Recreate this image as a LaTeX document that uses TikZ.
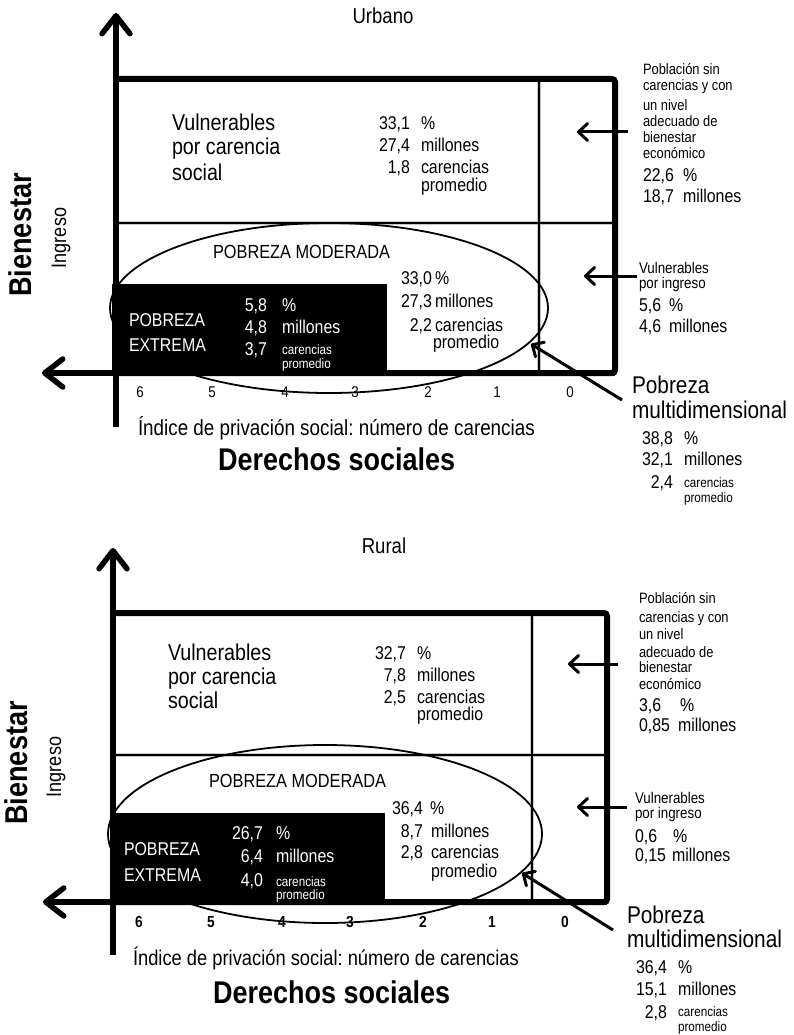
\documentclass[tikz,border=0pt]{standalone}
\usepackage{fontspec}
\setmainfont{Liberation Sans}[FakeStretch=0.86]
\usetikzlibrary{arrows.meta}
\newcommand\fsz[1]{\fontsize{#1}{#1}\selectfont}
\frenchspacing
\begin{document}
\begin{tikzpicture}[x=1pt,y=-1pt,
  tx/.style={inner sep=0pt, outer sep=0pt},
  L/.style={tx,anchor=base west},
  R/.style={tx,anchor=base east},
  C/.style={tx,anchor=base},
  big/.style={font=\fsz{18.5}},
  small/.style={font=\fsz{13.6}},
  vul/.style={font=\fsz{22.9}},
  side/.style={font=\fsz{15}},
  sidev/.style={font=\fsz{15.5}},
  multi/.style={font=\fsz{24.2}},
  mod/.style={font=\fsz{19}},
  wt/.style={text=white},
  tick/.style={C,font=\fsz{15.5}},
  tickb/.style={C,font=\bfseries\fsz{16}},
  heavy/.style={line width=6pt},
  inner/.style={line width=1.8pt},
  halo/.style={line width=3.6pt, gray!45},
  axisarrow/.style={line width=5.5pt, -{Straight Barb[length=18pt,width=28pt,line cap=round,line join=round]}},
  ptr/.style={line width=3pt, -{Straight Barb[length=9pt,width=17pt,line cap=round,line join=round]}},
]
\useasboundingbox (0,0) rectangle (793,1035);

%%%%%%%%%%%%%%%%%%%%%%%% URBANO %%%%%%%%%%%%%%%%%%%%%%%%
\coordinate (u-tl) at (116,79);
\coordinate (u-tr) at (615,79);
\coordinate (u-br) at (615,373);
\coordinate (u-bl) at (116,373);
\coordinate (u-xt) at (42,373);
\coordinate (u-yt) at (116,13);
\coordinate (u-yb) at (116,427);

\draw[halo] (116,223) -- (615,223);
\draw[halo] (539,79) -- (539,373);
\draw[inner] (116,223) -- (615,223);
\draw[inner] (539,79) -- (539,373);
\draw[line width=1.8pt] (329,308) ellipse [x radius=219pt, y radius=85pt];
\fill[black] (112,284) rectangle (387,373);
\draw[heavy, rounded corners=3pt] (u-tl) -- (u-tr) -- (u-br) -- (u-bl);
\draw[axisarrow] (u-br) -- (u-xt);
\draw[axisarrow] (u-yb) -- (u-yt);

\node[C,font=\fsz{21.6}] (u-title) at (383,24) {Urbano};
\node[tx,rotate=90,font=\bfseries\fsz{31.5}] (u-bien) at (20,235) {Bienestar};
\node[tx,rotate=90,font=\fsz{21}] (u-ing) at (61,238) {Ingreso};

\node[L,vul] (u-v1) at (172,131) {Vulnerables};
\node[L,vul] (u-v2) at (172,155) {por carencia};
\node[L,vul] (u-v3) at (172,180) {social};
\node[R,big] (u-vn1) at (410,130) {33,1};
\node[L,big] (u-vu1) at (421,130) {\%};
\node[R,big] (u-vn2) at (410,152) {27,4};
\node[L,big] (u-vu2) at (421,152) {millones};
\node[R,big] (u-vn3) at (410,174) {1,8};
\node[L,big] (u-vu3) at (421,174) {carencias};
\node[L,big] (u-vu4) at (421,191) {promedio};

\node[L,mod] (u-pm) at (213,258) {POBREZA MODERADA};
\node[R,big] (u-mn1) at (432,284) {33,0};
\node[L,big] (u-mu1) at (435,284) {\%};
\node[R,big] (u-mn2) at (432,307) {27,3};
\node[L,big] (u-mu2) at (435,307) {millones};
\node[R,big] (u-mn3) at (432,331) {2,2};
\node[L,big] (u-mu3) at (435,331) {carencias};
\node[L,big] (u-mu4) at (433,348) {promedio};

\node[L,big,wt] (u-pe1) at (129,326) {POBREZA};
\node[L,big,wt] (u-pe2) at (129,351) {EXTREMA};
\node[R,big,wt] (u-en1) at (267,311) {5,8};
\node[L,big,wt] (u-eu1) at (282,311) {\%};
\node[R,big,wt] (u-en2) at (267,333) {4,8};
\node[L,big,wt] (u-eu2) at (282,333) {millones};
\node[R,big,wt] (u-en3) at (267,355) {3,7};
\node[L,small,wt] (u-eu3) at (282,354) {carencias};
\node[L,small,wt] (u-eu4) at (282,368) {promedio};

\node[L,side] (u-s1) at (643,75) {Población sin};
\node[L,side] (u-s2) at (643,91) {carencias y con};
\node[L,side] (u-s3) at (643,111) {un nivel};
\node[L,side] (u-s4) at (643,127) {adecuado de};
\node[L,side] (u-s5) at (643,143) {bienestar};
\node[L,side] (u-s6) at (643,159) {económico};
\node[L,big] (u-sn1) at (643,182) {22,6};
\node[L,big] (u-su1) at (683,182) {\%};
\node[L,big] (u-sn2) at (643,202) {18,7};
\node[L,big] (u-su2) at (683,202) {millones};
\coordinate (u-a1s) at (628,132);
\coordinate (u-a1e) at (577,132);
\draw[ptr] (u-a1s) -- (u-a1e);

\node[L,sidev] (u-i1) at (639,273) {Vulnerables};
\node[L,sidev] (u-i2) at (639,288) {por ingreso};
\node[L,big] (u-in1) at (639,311) {5,6};
\node[L,big] (u-iu1) at (669,311) {\%};
\node[L,big] (u-in2) at (639,332) {4,6};
\node[L,big] (u-iu2) at (669,332) {millones};
\coordinate (u-a2s) at (637,276);
\coordinate (u-a2e) at (584,276);
\draw[ptr] (u-a2s) -- (u-a2e);

\node[L,multi] (u-m1) at (632,393) {Pobreza};
\node[L,multi] (u-m2) at (632,418) {multidimensional};
\node[R,big] (u-mdn1) at (673,444) {38,8};
\node[L,big] (u-mdu1) at (684,444) {\%};
\node[R,big] (u-mdn2) at (673,465) {32,1};
\node[L,big] (u-mdu2) at (684,465) {millones};
\node[R,big] (u-mdn3) at (673,488) {2,4};
\node[L,small] (u-mdu3) at (684,487) {carencias};
\node[L,small] (u-mdu4) at (684,502) {promedio};
\coordinate (u-a3s) at (622,400);
\coordinate (u-a3e) at (531,344);
\draw[ptr] (u-a3s) -- (u-a3e);

\node[tick] (u-t6) at (140,397) {6};
\node[tick] (u-t5) at (212,397) {5};
\node[tick] (u-t4) at (285,397) {4};
\node[tick] (u-t3) at (355,397) {3};
\node[tick] (u-t2) at (428,397) {2};
\node[tick] (u-t1) at (497,397) {1};
\node[tick] (u-t0) at (570,397) {0};
\node[L,font=\fsz{21.9}] (u-idx) at (138,435) {Índice de privación social: número de carencias};
\node[L,font=\bfseries\fsz{31.4}] (u-der) at (218,470) {Derechos sociales};

%%%%%%%%%%%%%%%%%%%%%%%% RURAL %%%%%%%%%%%%%%%%%%%%%%%%
\coordinate (r-tl) at (113,613);
\coordinate (r-tr) at (607,613);
\coordinate (r-br) at (607,902);
\coordinate (r-bl) at (113,902);
\coordinate (r-xt) at (43,902);
\coordinate (r-yt) at (113,548);
\coordinate (r-yb) at (113,955);

\draw[halo] (113,755) -- (607,755);
\draw[halo] (532,613) -- (532,902);
\draw[inner] (113,755) -- (607,755);
\draw[inner] (532,613) -- (532,902);
\draw[line width=1.8pt] (325,834) ellipse [x radius=217pt, y radius=89pt];
\fill[black] (111,813) rectangle (385,902);
\draw[heavy, rounded corners=3pt] (r-tl) -- (r-tr) -- (r-br) -- (r-bl);
\draw[axisarrow] (r-br) -- (r-xt);
\draw[axisarrow] (r-yb) -- (r-yt);

\node[C,font=\fsz{21.6}] (r-title) at (384,553) {Rural};
\node[tx,rotate=90,font=\bfseries\fsz{31.5}] (r-bien) at (16,763) {Bienestar};
\node[tx,rotate=90,font=\fsz{21}] (r-ing) at (56,767) {Ingreso};

\node[L,vul] (r-v1) at (168,660) {Vulnerables};
\node[L,vul] (r-v2) at (168,684) {por carencia};
\node[L,vul] (r-v3) at (168,708) {social};
\node[R,big] (r-vn1) at (406,659) {32,7};
\node[L,big] (r-vu1) at (417,659) {\%};
\node[R,big] (r-vn2) at (406,681) {7,8};
\node[L,big] (r-vu2) at (417,681) {millones};
\node[R,big] (r-vn3) at (406,703) {2,5};
\node[L,big] (r-vu3) at (417,703) {carencias};
\node[L,big] (r-vu4) at (417,720) {promedio};

\node[L,mod] (r-pm) at (209,787) {POBREZA MODERADA};
\node[R,big] (r-mn1) at (423,814) {36,4};
\node[L,big] (r-mu1) at (430,814) {\%};
\node[R,big] (r-mn2) at (423,837) {8,7};
\node[L,big] (r-mu2) at (431,837) {millones};
\node[R,big] (r-mn3) at (423,858) {2,8};
\node[L,big] (r-mu3) at (431,858) {carencias};
\node[L,big] (r-mu4) at (431,877) {promedio};

\node[L,big,wt] (r-pe1) at (124,855) {POBREZA};
\node[L,big,wt] (r-pe2) at (124,881) {EXTREMA};
\node[R,big,wt] (r-en1) at (263,839) {26,7};
\node[L,big,wt] (r-eu1) at (276,839) {\%};
\node[R,big,wt] (r-en2) at (263,862) {6,4};
\node[L,big,wt] (r-eu2) at (276,862) {millones};
\node[R,big,wt] (r-en3) at (263,886) {4,0};
\node[L,small,wt] (r-eu3) at (276,886) {carencias};
\node[L,small,wt] (r-eu4) at (276,899) {promedio};

\node[L,side] (r-s1) at (639,603) {Población sin};
\node[L,side] (r-s2) at (639,622) {carencias y con};
\node[L,side] (r-s3) at (639,639) {un nivel};
\node[L,side] (r-s4) at (639,657) {adecuado de};
\node[L,side] (r-s5) at (639,672) {bienestar};
\node[L,side] (r-s6) at (639,689) {económico};
\node[L,big] (r-sn1) at (639,711) {3,6};
\node[L,big] (r-su1) at (680,711) {\%};
\node[L,big] (r-sn2) at (639,731) {0,85};
\node[L,big] (r-su2) at (678,731) {millones};
\coordinate (r-a1s) at (618,664);
\coordinate (r-a1e) at (568,664);
\draw[ptr] (r-a1s) -- (r-a1e);

\node[L,sidev] (r-i1) at (635,803) {Vulnerables};
\node[L,sidev] (r-i2) at (635,818) {por ingreso};
\node[L,big] (r-in1) at (635,842) {0,6};
\node[L,big] (r-iu1) at (673,842) {\%};
\node[L,big] (r-in2) at (635,861) {0,15};
\node[L,big] (r-iu2) at (672,861) {millones};
\coordinate (r-a2s) at (627,807);
\coordinate (r-a2e) at (577,807);
\draw[ptr] (r-a2s) -- (r-a2e);

\node[L,multi] (r-m1) at (627,923) {Pobreza};
\node[L,multi] (r-m2) at (627,947) {multidimensional};
\node[R,big] (r-mdn1) at (667,973) {36,4};
\node[L,big] (r-mdu1) at (678,973) {\%};
\node[R,big] (r-mdn2) at (667,995) {15,1};
\node[L,big] (r-mdu2) at (678,995) {millones};
\node[R,big] (r-mdn3) at (667,1018) {2,8};
\node[L,small] (r-mdu3) at (678,1016) {carencias};
\node[L,small] (r-mdu4) at (678,1031) {promedio};
\coordinate (r-a3s) at (613,930);
\coordinate (r-a3e) at (522,873);
\draw[ptr] (r-a3s) -- (r-a3e);

\node[tickb] (r-t6) at (139,927) {6};
\node[tickb] (r-t5) at (211,927) {5};
\node[tickb] (r-t4) at (282,927) {4};
\node[tickb] (r-t3) at (350,927) {3};
\node[tickb] (r-t2) at (423,927) {2};
\node[tickb] (r-t1) at (492,927) {1};
\node[tickb] (r-t0) at (565,927) {0};
\node[L,font=\fsz{21.3}] (r-idx) at (133,965) {Índice de privación social: número de carencias};
\node[L,font=\bfseries\fsz{31.4}] (r-der) at (213,1003) {Derechos sociales};
\end{tikzpicture}
\end{document}
